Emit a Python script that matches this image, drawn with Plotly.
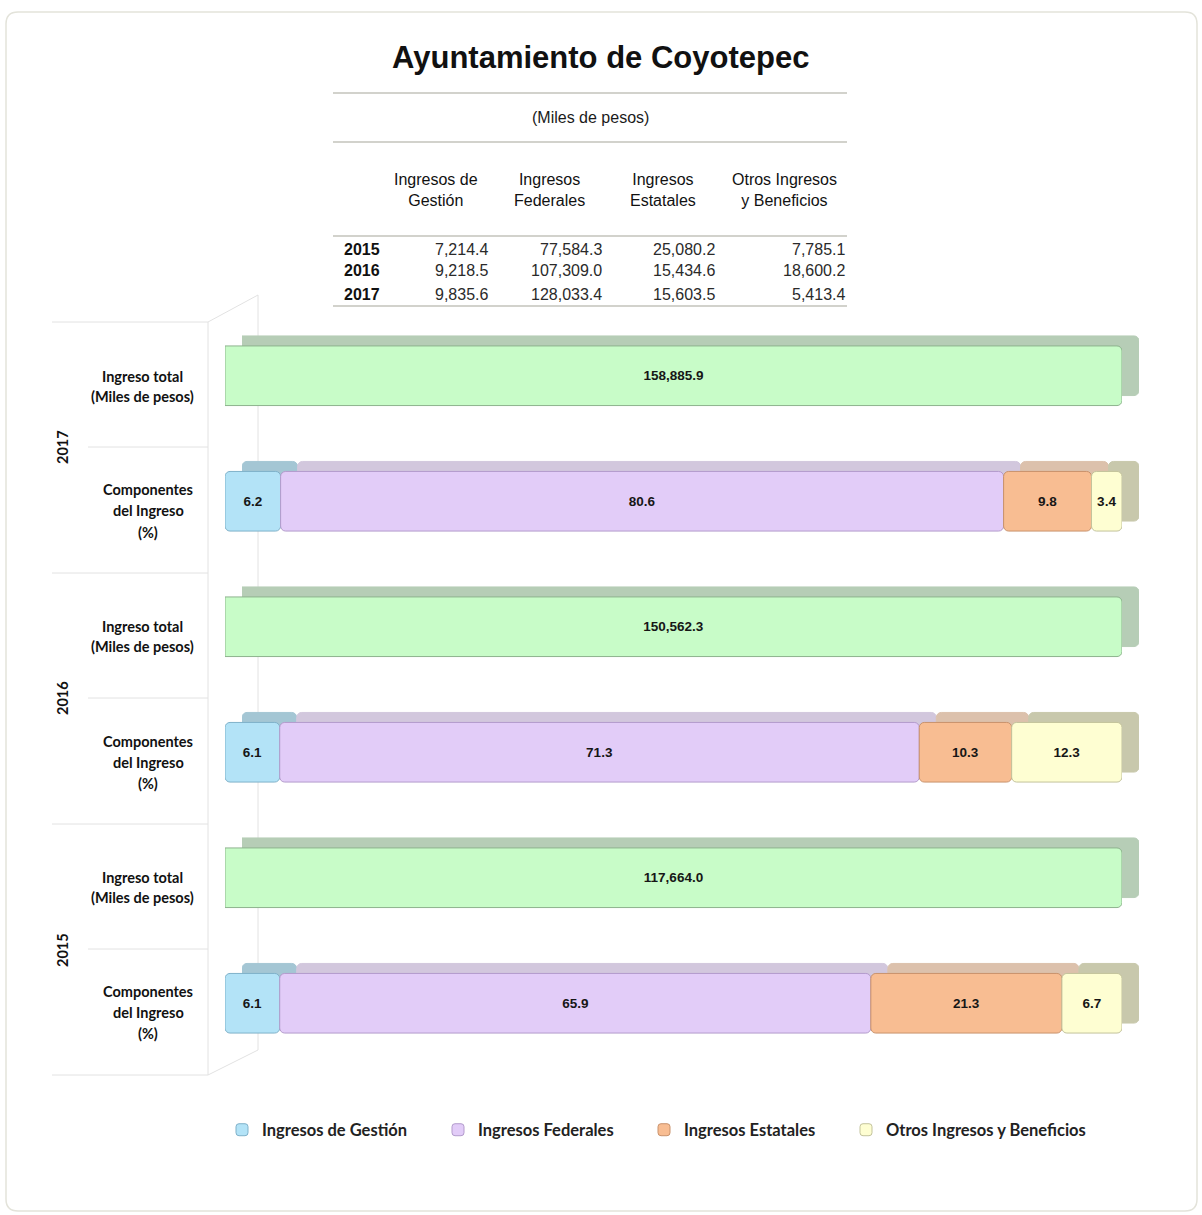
import numpy as np
import plotly.graph_objects as go

W, H = 1202, 1215

years = ["2015", "2016", "2017"]
componentes = ["Ingresos de Gestión", "Ingresos Federales", "Ingresos Estatales", "Otros Ingresos y Beneficios"]
encabezados = ["Ingresos de<br>Gestión", "Ingresos<br>Federales", "Ingresos<br>Estatales", "Otros Ingresos<br>y Beneficios"]

# miles de pesos, por año (2015, 2016, 2017)
gestion = [7214.4, 9218.5, 9835.6]
federales = [77584.3, 107309.0, 128033.4]
estatales = [25080.2, 15434.6, 15603.5]
otros = [7785.1, 18600.2, 5413.4]

# porcentajes tal como aparecen en las barras
pct_gestion = [6.1, 6.1, 6.2]
pct_federales = [65.9, 71.3, 80.6]
pct_estatales = [21.3, 10.3, 9.8]
pct_otros = [6.7, 12.3, 3.4]

montos = [gestion, federales, estatales, otros]
pcts = [pct_gestion, pct_federales, pct_estatales, pct_otros]
total = np.sum(montos, axis=0)
pct_total = np.sum(pcts, axis=0)

fila_total = [y + " total" for y in years]
fila_comp = [y + " comp" for y in years]
orden = []
for t, c in zip(fila_total, fila_comp):
    orden += [c, t]

# colores: frente, borde, cara trasera (efecto 3D)
col_total = ("#C8FCC8", "#8DB38D", "#B6CDB6")
col_comp = [
    ("#B3E3F7", "#7FB1C9", "#A4C6D4"),
    ("#E2CCF8", "#B39BCC", "#D2C7DD"),
    ("#F8BD92", "#C9926C", "#DCC1AC"),
    ("#FEFED2", "#C3C39C", "#C8C8AC"),
]

def px(x):
    return x / W

def py(y):
    return 1 - y / H

txt_font = dict(family="Liberation Sans Narrow, Arial Narrow, Liberation Sans, Arial", size=13.5,
                color="#161616", weight="bold")

fig = go.Figure()
leyendas = ["legend", "legend2", "legend3", "legend4"]

# copia trasera desplazada (ejes x/y) y frente (ejes x2/y2)
for capa, (xa, ya) in enumerate([("x", "y"), ("x2", "y2")]):
    frente = capa == 1
    fig.add_trace(go.Bar(
        x=pct_total, y=fila_total, orientation="h", xaxis=xa, yaxis=ya,
        marker=dict(color=col_total[0] if frente else col_total[2],
                    line=dict(color=col_total[1] if frente else col_total[2], width=1),
                    cornerradius=5),
        text=[f"{v:,.1f}" for v in total] if frente else None,
        textposition="inside", insidetextanchor="middle", textfont=txt_font,
        showlegend=False, hoverinfo="skip",
    ))
    base = np.zeros(len(years))
    for k, nombre in enumerate(componentes):
        fig.add_trace(go.Bar(
            x=pcts[k], base=base.copy(), y=fila_comp, orientation="h", xaxis=xa, yaxis=ya,
            name=nombre, legend=leyendas[k],
            marker=dict(color=col_comp[k][0] if frente else col_comp[k][2],
                        line=dict(color=col_comp[k][1] if frente else col_comp[k][2], width=1),
                        cornerradius=5),
            text=[f"{v:.1f}" for v in pcts[k]] if frente else None,
            textposition="inside", insidetextanchor="middle", textfont=txt_font,
            showlegend=frente, hoverinfo="skip",
        ))
        base += np.array(pcts[k])

eje_x = dict(range=[0, 100], showgrid=False, zeroline=False, showticklabels=False,
             showline=False, fixedrange=True)
eje_y = dict(type="category", categoryorder="array", categoryarray=orden, range=[-0.5, 5.5],
             showgrid=False, zeroline=False, showticklabels=False, showline=False)

dx, dy = 17, 10
fig.update_layout(
    xaxis=dict(eje_x, domain=[px(225 + dx), px(1122 + dx)], anchor="y"),
    yaxis=dict(eje_y, domain=[py(1066 - dy), py(313 - dy)], anchor="x"),
    xaxis2=dict(eje_x, domain=[px(225), px(1122)], anchor="y2"),
    yaxis2=dict(eje_y, domain=[py(1066), py(313)], anchor="x2"),
)

# ---- textos ----
ann = []
def texto(x, y, s, size=16, family="Liberation Sans, Arial", color="#222", xanchor="center",
          weight="normal", angle=0):
    ann.append(dict(x=px(x), y=py(y), xref="paper", yref="paper", text=s, showarrow=False,
                    xanchor=xanchor, yanchor="middle", textangle=angle,
                    font=dict(family=family, size=size, color=color, weight=weight)))

texto(600, 57, "Ayuntamiento de Coyotepec", size=31, color="#111", weight="bold")
texto(590, 118, "(Miles de pesos)", color="#1a1a1a")
for cx, h in zip([436, 549, 663, 784], encabezados):
    texto(cx, 190, h, color="#111")
filas_y = [250, 271, 294]
for i, y in enumerate(years):
    texto(342, filas_y[i], y, xanchor="left", weight="bold", color="#111")
    for rx, serie in zip([490, 604, 717, 847], montos):
        texto(rx, filas_y[i], f"{serie[i]:,.1f}", xanchor="right", color="#2a2a2a")

lbl = dict(family="Lato, Open Sans", size=14.5, color="#111", weight="bold")
centros_total = {"2017": 386, "2016": 636, "2015": 887}
centros_comp = {"2017": 511, "2016": 762, "2015": 1012}
centros_year = {"2017": 447, "2016": 698, "2015": 950}
for y in years:
    for j, s in enumerate(["Ingreso total", "(Miles de pesos)"]):
        texto(142, centros_total[y] - 10 + 20 * j, s, **lbl)
    for j, s in enumerate(["Componentes", "del Ingreso", "(%)"]):
        texto(148, centros_comp[y] - 21 + 21 * j, s, **lbl)
    texto(62, centros_year[y], y, angle=-90, **lbl)

# ---- líneas ----
shapes = []
def linea(x0, y0, x1, y1, color="#e2e2e2", w=1):
    shapes.append(dict(type="line", xref="paper", yref="paper", x0=px(x0), y0=py(y0),
                       x1=px(x1), y1=py(y1), layer="below", line=dict(color=color, width=w)))

for y in [93, 142, 236, 306]:
    linea(333, y, 847, y, color="#d2d2cc", w=2)

for y in [322, 573, 824, 1075]:
    linea(52, y, 208, y)
for y in [447, 698, 949]:
    linea(88, y, 208, y)
linea(208, 322, 208, 1075)
linea(208, 322, 258, 295)
linea(208, 1075, 258, 1050)
linea(258, 295, 258, 1050)

# marco redondeado
x0, x1, y0, y1, r = px(6), px(1197), py(12), py(1211), 12
rx, ry = r / W, r / H
shapes.append(dict(
    type="path", xref="paper", yref="paper", layer="below",
    path=(f"M {x0+rx},{y0} L {x1-rx},{y0} Q {x1},{y0} {x1},{y0-ry} "
          f"L {x1},{y1+ry} Q {x1},{y1} {x1-rx},{y1} L {x0+rx},{y1} Q {x0},{y1} {x0},{y1+ry} "
          f"L {x0},{y0-ry} Q {x0},{y0} {x0+rx},{y0} Z"),
    line=dict(color="#e3e3da", width=1.5)))

leg_font = dict(family="Lato, Open Sans", size=16.5, color="#222", weight="bold")
leg_x = [222, 438, 644, 846]
leg_cfg = {}
for nombre, lx in zip(leyendas, leg_x):
    leg_cfg[nombre] = dict(x=px(lx), y=py(1130), xanchor="left", yanchor="middle",
                           orientation="h", bgcolor="rgba(0,0,0,0)", font=leg_font)

fig.update_layout(
    width=W, height=H,
    margin=dict(l=0, r=0, t=0, b=0),
    paper_bgcolor="white", plot_bgcolor="rgba(0,0,0,0)",
    barmode="overlay", bargap=0.525,
    annotations=ann, shapes=shapes,
    uniformtext=dict(minsize=13.5, mode="show"),
    showlegend=True,
    **leg_cfg,
)

fig.write_html("out.html", config={"displayModeBar": False},
               post_script="document.body.style.margin='0';document.body.style.padding='0';")
